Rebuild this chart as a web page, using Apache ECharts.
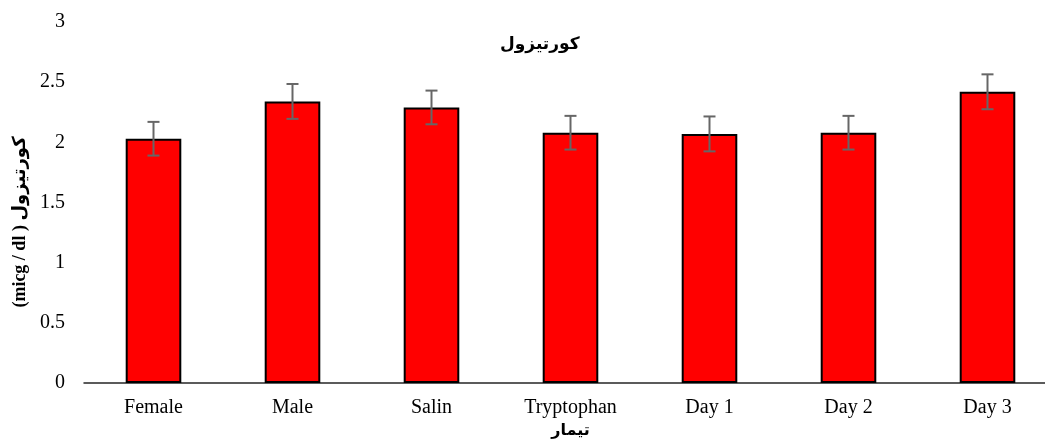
<!DOCTYPE html>
<html>
<head>
    <meta charset="utf-8">
    <title>cortisol</title>
    <script src="https://cdn.jsdelivr.net/npm/echarts@6/dist/echarts.min.js"></script>
</head>
<body style="margin:0">
    <div id="main" style="width:1045px;height:439px;"></div>
    <script type="text/javascript">
        // داده ها
        var categories = ['Female', 'Male', 'Salin', 'Tryptophan', 'Day 1', 'Day 2', 'Day 3'];
        var values = [2.03, 2.34, 2.29, 2.08, 2.07, 2.08, 2.42];
        var errors = [0.14, 0.145, 0.14, 0.14, 0.145, 0.14, 0.145];
        var yTicks = [0, 0.5, 1, 1.5, 2, 2.5, 3];

        var serif = "'Liberation Serif', 'DejaVu Serif', serif";
        var arabic = "'Liberation Serif', 'DejaVu Sans', sans-serif";

        var errData = values.map(function (v, i) {
            return [i, v - errors[i], v + errors[i]];
        });

        var myChart = echarts.init(document.getElementById('main'));
        var option = {
            backgroundColor: '#fff',
            animation: false,
            title: {
                text: 'کورتیزول',
                left: 495,
                top: 31,
                textStyle: {
                    fontFamily: arabic,
                    fontSize: 17,
                    fontWeight: 'bold',
                    color: '#000'
                }
            },
            // عنوان محور عمودی
            graphic: [{
                type: 'text',
                x: 20,
                y: 222,
                rotation: Math.PI / 2,
                style: {
                    text: '(micg / dl ) کورتیزول',
                    fontFamily: arabic,
                    fontSize: 18,
                    fontWeight: 'bold',
                    fill: '#000',
                    align: 'center',
                    verticalAlign: 'middle'
                }
            }],
            grid: {
                left: 84,
                top: 22,
                width: 973,
                height: 361,
                outerBoundsMode: 'none'
            },
            xAxis: {
                type: 'category',
                data: categories,
                name: 'تیمار',
                nameLocation: 'middle',
                nameGap: 38,
                nameTextStyle: {
                    fontFamily: arabic,
                    fontSize: 16,
                    fontWeight: 'bold',
                    color: '#000'
                },
                axisLine: { lineStyle: { color: '#262626', width: 1.5 } },
                axisTick: { show: false },
                axisLabel: {
                    margin: 15,
                    fontFamily: serif,
                    fontSize: 20,
                    color: '#000'
                }
            },
            yAxis: {
                type: 'value',
                min: 0,
                max: 3,
                interval: 0.5,
                axisLine: { show: false },
                axisTick: { show: false },
                splitLine: { show: false },
                axisLabel: {
                    margin: 19,
                    fontFamily: serif,
                    fontSize: 20,
                    color: '#000',
                    formatter: function (v) {
                        return yTicks.indexOf(v) >= 0 ? String(v) : '';
                    }
                }
            },
            series: [{
                type: 'bar',
                data: values,
                barWidth: '40%',
                itemStyle: {
                    color: '#ff0000',
                    borderColor: '#000',
                    borderWidth: 2
                }
            }, {
                type: 'custom',
                data: errData,
                z: 5,
                renderItem: function (params, api) {
                    var x = api.value(0);
                    var lo = api.coord([x, api.value(1)]);
                    var hi = api.coord([x, api.value(2)]);
                    var half = 6;
                    var style = { stroke: '#666', lineWidth: 2 };
                    return {
                        type: 'group',
                        children: [
                            { type: 'line', shape: { x1: lo[0], y1: lo[1], x2: hi[0], y2: hi[1] }, style: style },
                            { type: 'line', shape: { x1: hi[0] - half, y1: hi[1], x2: hi[0] + half, y2: hi[1] }, style: style },
                            { type: 'line', shape: { x1: lo[0] - half, y1: lo[1], x2: lo[0] + half, y2: lo[1] }, style: style }
                        ]
                    };
                }
            }]
        };
        myChart.setOption(option);
    </script>
</body>
</html>
